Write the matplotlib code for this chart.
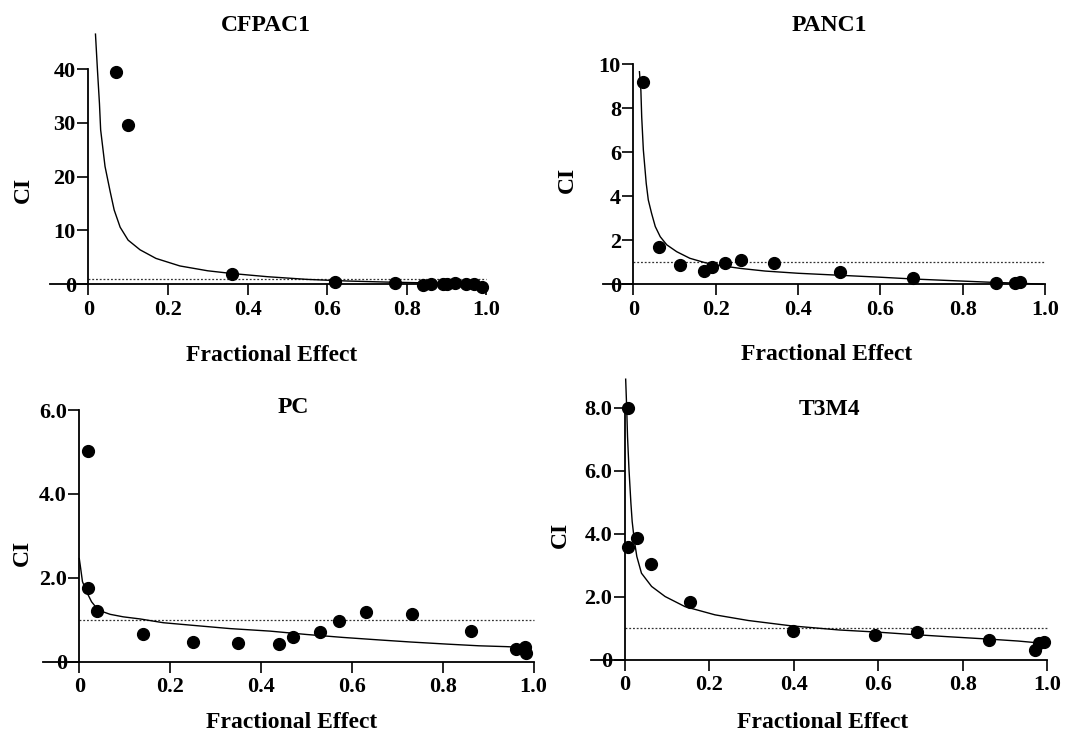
import matplotlib
matplotlib.use('Agg')
import matplotlib.pyplot as plt

plt.rcParams['font.family'] = ['Liberation Serif', 'DejaVu Serif']
plt.rcParams['font.weight'] = 'bold'

# CFPAC1
cfpac1_fa = [0.07, 0.10, 0.36, 0.62, 0.77, 0.84, 0.86, 0.89, 0.90, 0.92, 0.95, 0.97, 0.99]
cfpac1_ci = [39.4, 29.6, 1.9, 0.4, 0.2, -0.1, 0.1, 0.1, 0.1, 0.2, 0.1, 0.0, -0.5]
cfpac1_curve_fa = [0.018, 0.023, 0.028, 0.031, 0.042, 0.055, 0.065, 0.08, 0.10, 0.13, 0.17,
                   0.23, 0.30, 0.36, 0.45, 0.55, 0.65, 0.75, 0.85, 0.95, 0.99]
cfpac1_curve_ci = [46.5, 39.8, 33.6, 28.7, 21.9, 17.2, 13.8, 10.6, 8.2, 6.4, 4.8,
                   3.4, 2.5, 2.0, 1.4, 0.9, 0.6, 0.4, 0.25, 0.1, 0.03]
cfpac1_yticks = [0, 10, 20, 30, 40]
cfpac1_ylabels = ['0', '10', '20', '30', '40']

# PANC1
panc1_fa = [0.022, 0.062, 0.112, 0.171, 0.192, 0.222, 0.262, 0.342, 0.502, 0.68, 0.88, 0.927, 0.939]
panc1_ci = [9.2, 1.68, 0.88, 0.6, 0.77, 0.97, 1.08, 0.98, 0.55, 0.28, 0.07, 0.05, 0.1]
panc1_curve_fa = [0.0145, 0.018, 0.020, 0.024, 0.031, 0.036, 0.044, 0.053, 0.065, 0.081, 0.105,
                  0.137, 0.174, 0.21, 0.26, 0.32, 0.40, 0.50, 0.60, 0.68, 0.78, 0.87, 0.95, 0.995]
panc1_curve_ci = [9.65, 8.8, 7.6, 6.1, 4.58, 3.83, 3.22, 2.62, 2.16, 1.79, 1.48,
                  1.18, 0.98, 0.85, 0.72, 0.6, 0.5, 0.41, 0.32, 0.24, 0.16, 0.09, 0.04, 0.0]
panc1_yticks = [0, 2, 4, 6, 8, 10]
panc1_ylabels = ['0', '2', '4', '6', '8', '10']

# PC
pc_fa = [0.02, 0.02, 0.038, 0.141, 0.25, 0.35, 0.44, 0.47, 0.53, 0.572, 0.631, 0.732, 0.862, 0.962, 0.981, 0.983]
pc_ci = [5.02, 1.76, 1.21, 0.65, 0.46, 0.44, 0.43, 0.6, 0.72, 0.96, 1.18, 1.13, 0.73, 0.30, 0.36, 0.22]
pc_curve_fa = [0.0, 0.003, 0.007, 0.016, 0.027, 0.042, 0.068, 0.097, 0.134, 0.185, 0.258,
               0.332, 0.42, 0.50, 0.58, 0.66, 0.73, 0.81, 0.88, 0.94, 0.98]
pc_curve_ci = [2.46, 2.23, 1.91, 1.67, 1.43, 1.23, 1.13, 1.07, 1.02, 0.93, 0.86,
               0.79, 0.73, 0.65, 0.58, 0.52, 0.47, 0.42, 0.38, 0.36, 0.34]
pc_yticks = [0, 2, 4, 6]
pc_ylabels = ['0', '2.0', '4.0', '6.0']

# T3M4
t3m4_fa = [0.008, 0.008, 0.029, 0.062, 0.154, 0.398, 0.591, 0.69, 0.862, 0.971, 0.98, 0.992]
t3m4_ci = [7.98, 3.59, 3.86, 3.03, 1.83, 0.92, 0.79, 0.90, 0.63, 0.30, 0.53, 0.58]
t3m4_curve_fa = [0.0016, 0.004, 0.006, 0.0095, 0.014, 0.017, 0.022, 0.028, 0.039, 0.063, 0.095,
                 0.142, 0.213, 0.292, 0.394, 0.507, 0.60, 0.665, 0.76, 0.862, 0.93, 0.988]
t3m4_curve_ci = [8.9, 8.0, 7.08, 6.03, 4.97, 4.39, 3.8, 3.28, 2.75, 2.33, 2.01,
                 1.69, 1.43, 1.25, 1.08, 0.95, 0.88, 0.82, 0.74, 0.66, 0.6, 0.53]
t3m4_yticks = [0, 2, 4, 6, 8]
t3m4_ylabels = ['0', '2.0', '4.0', '6.0', '8.0']

xticks = [0, 0.2, 0.4, 0.6, 0.8, 1.0]
xticklabels = ['0', '0.2', '0.4', '0.6', '0.8', '1.0']

fig = plt.figure(figsize=(10.73, 7.34), dpi=100)

# name, points, curve, yticks, axes rect, ylim, xmin, title pos, ylabel pos, xlabel y
panels = [
    ('CFPAC1', cfpac1_fa, cfpac1_ci, cfpac1_curve_fa, cfpac1_curve_ci, cfpac1_yticks, cfpac1_ylabels,
     [0.0452, 0.5981, 0.4155, 0.3591], (-2, 47), -0.1, (0.488, 1.024), (-0.057, 0.398), -0.228),
    ('PANC1', panc1_fa, panc1_ci, panc1_curve_fa, panc1_curve_ci, panc1_yticks, panc1_ylabels,
     [0.5597, 0.6007, 0.4218, 0.3181], (-0.4, 10.2), -0.08, (0.505, 1.148), (-0.074, 0.484), -0.265),
    ('PC', pc_fa, pc_ci, pc_curve_fa, pc_curve_ci, pc_yticks, pc_ylabels,
     [0.0379, 0.0813, 0.4678, 0.3658], (-0.3, 6.1), -0.085, (0.503, 0.992), (-0.037, 0.452), -0.181),
    ('T3M4', t3m4_fa, t3m4_ci, t3m4_curve_fa, t3m4_curve_ci, t3m4_yticks, t3m4_ylabels,
     [0.549, 0.0837, 0.4351, 0.404], (-0.4, 9.0), -0.085, (0.516, 0.886), (-0.062, 0.464), -0.170),
]

for (name, fa, ci, cfa, cci, yt, ytl, rect, ylim, xmin, tpos, ylpos, xly) in panels:
    ax = fig.add_axes(rect)
    ax.set_xlim(xmin, 1.02)
    ax.set_ylim(*ylim)

    # CI = 1 reference line
    ax.plot([0, 1.0], [1, 1], color='#333333', lw=0.9, ls=(0, (1.5, 1.5)))
    ax.plot(cfa, cci, color='black', lw=1.0)
    ax.plot(fa, ci, 'o', color='black', ms=8.5, clip_on=False)

    for s in ['top', 'right']:
        ax.spines[s].set_visible(False)
    ax.spines['left'].set_position(('data', 0))
    ax.spines['bottom'].set_position(('data', 0))
    ax.spines['left'].set_bounds(0, yt[-1])
    ax.spines['bottom'].set_bounds(xmin + 0.005, 1.0)
    ax.spines['left'].set_linewidth(1.3)
    ax.spines['bottom'].set_linewidth(1.3)

    ax.set_xticks(xticks, xticklabels)
    ax.set_yticks(yt, ytl)
    ax.tick_params(direction='out', length=8, width=1.2, labelsize=16)
    ax.tick_params(axis='x', pad=3)
    ax.tick_params(axis='y', pad=1)

    ax.text(tpos[0], tpos[1], name, transform=ax.transAxes, ha='center', va='center',
            fontsize=17, fontweight='bold')
    ax.set_ylabel('CI', fontsize=17, fontweight='bold', va='center')
    ax.yaxis.set_label_coords(*ylpos)
    ax.set_xlabel('Fractional Effect', fontsize=17, fontweight='bold', va='center')
    ax.xaxis.set_label_coords(0.5, xly)

plt.savefig('out.png', dpi=100)
